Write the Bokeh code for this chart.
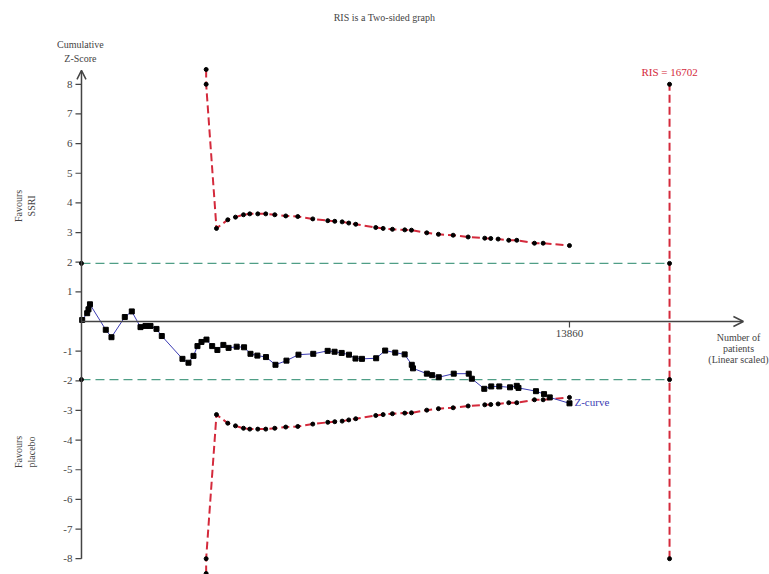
from bokeh.plotting import figure
from bokeh.models import Range1d, Label, Arrow, OpenHead, ColumnDataSource
from bokeh.core.properties import value
from bokeh.embed import file_html
from bokeh.resources import INLINE

# Cumulative number of patients after each added trial and the cumulative Z-score
z_patients = [20, 162, 199, 241, 690, 852, 1230, 1429, 1676, 1818, 1960, 2130, 2281,
              2868, 3039, 3181, 3294, 3408, 3550, 3712, 3860, 4030, 4178, 4408, 4618,
              4800, 4996, 5240, 5510, 5822, 6163, 6583, 6992, 7188, 7390, 7597, 7782,
              7966, 8369, 8625, 8912, 9179, 9381, 9415, 9809, 9960, 10147, 10573, 10999,
              11087, 11440, 11638, 11866, 12172, 12363, 12411, 12908, 13138, 13300, 13860]
z_values = [0.05, 0.28, 0.41, 0.58, -0.28, -0.53, 0.15, 0.34, -0.19, -0.15, -0.15, -0.25, -0.49,
            -1.26, -1.39, -1.16, -0.83, -0.69, -0.61, -0.83, -0.96, -0.79, -0.89, -0.85, -0.87,
            -1.09, -1.15, -1.20, -1.46, -1.32, -1.12, -1.09, -0.99, -1.02, -1.06, -1.12, -1.25,
            -1.26, -1.24, -0.98, -1.05, -1.11, -1.46, -1.58, -1.76, -1.81, -1.88, -1.76, -1.76,
            -1.93, -2.27, -2.19, -2.19, -2.22, -2.17, -2.24, -2.35, -2.45, -2.56, -2.76]

# Trial sequential monitoring boundary (upper; the lower one is its mirror image)
bound_patients = [3541, 3541, 3834, 4155, 4374, 4601, 4780, 5007, 5234, 5490, 5802, 6143,
                  6569, 6995, 7194, 7404, 7591, 7790, 8358, 8568, 8832, 9182, 9372, 9807,
                  10139, 10556, 10982, 11454, 11624, 11834, 12135, 12363, 12865, 13112, 13860]
bound_upper = [8.5, 8.0, 3.14, 3.43, 3.52, 3.60, 3.63, 3.63, 3.63, 3.60, 3.56, 3.54,
               3.46, 3.40, 3.38, 3.36, 3.32, 3.28, 3.17, 3.14, 3.11, 3.09, 3.08, 2.99,
               2.94, 2.91, 2.85, 2.81, 2.80, 2.78, 2.74, 2.74, 2.64, 2.64, 2.56]
bound_lower = [-v for v in bound_upper]

ris = 16702
total_patients = 13860
conv_z = 1.96
y_ticks = [-8, -7, -6, -5, -4, -3, -2, -1, 1, 2, 3, 4, 5, 6, 7, 8]
y_tick_labels = [str(t) for t in y_ticks]

SERIF = "Liberation Serif"
RED = "#d42a3c"
GREEN = "#4f9e86"
BLUE = "#3c3cb4"
AXIS = "#444444"

# data units per screen pixel, used for tick lengths and offsets
PX_X = 28.4
PX_Y = 1 / 29.65

p = figure(width=769, height=574, output_backend="svg", toolbar_location=None,
           x_range=Range1d(-2300, 19541), y_range=Range1d(-8.533, 10.826),
           x_axis_type=None, y_axis_type=None,
           min_border_left=0, min_border_right=0, min_border_top=0, min_border_bottom=0)
p.outline_line_color = None
p.background_fill_color = "white"
p.border_fill_color = "white"

# vertical Z axis with ticks and an open arrow head
p.add_layout(Arrow(end=OpenHead(size=9, line_color=AXIS, line_width=1.5),
                   x_start=0, y_start=-8, x_end=0, y_end=8.47,
                   line_color=AXIS, line_width=1.5))
p.segment(x0=[-6 * PX_X] * len(y_ticks), y0=y_ticks, x1=[0] * len(y_ticks), y1=y_ticks,
          line_color=AXIS, line_width=1.2)
p.text(x=[-9 * PX_X] * len(y_ticks), y=y_ticks, text=y_tick_labels,
       text_align="right", text_baseline="middle", text_font=value(SERIF),
       text_font_size="11px", text_color=AXIS)

# horizontal patients axis through Z = 0
p.add_layout(Arrow(end=OpenHead(size=10, line_color=AXIS, line_width=1.5),
                   x_start=0, y_start=0, x_end=18800, y_end=0,
                   line_color=AXIS, line_width=1.5))
p.segment(x0=[total_patients], y0=[0], x1=[total_patients], y1=[-6 * PX_Y],
          line_color=AXIS, line_width=1.2)
p.add_layout(Label(x=total_patients, y=-9 * PX_Y, text=str(total_patients),
                   text_align="center", text_baseline="top",
                   text_font=SERIF, text_font_size="11px", text_color=AXIS))

# conventional significance lines
for zc in (conv_z, -conv_z):
    p.line([0, ris], [zc, zc], line_color=GREEN, line_width=1.3, line_dash="9 5")

# required information size
p.line([ris, ris], [-8, 8], line_color=RED, line_width=2, line_dash="8 4")
p.scatter([ris, ris, ris, ris, 0, 0], [8, conv_z, -conv_z, -8, conv_z, -conv_z],
          size=4, color="black")

# monitoring boundaries
for bz in (bound_upper, bound_lower):
    p.line(bound_patients, bz, line_color=RED, line_width=2, line_dash="8 4")
    p.scatter(bound_patients, bz, size=4, color="black")

# cumulative Z-curve
src = ColumnDataSource(dict(n=z_patients, z=z_values))
p.line("n", "z", source=src, line_color=BLUE, line_width=1)
p.scatter("n", "z", source=src, marker="square", size=5, color="black")


def label(x, y, text, size="10px", color=AXIS, align="center", baseline="middle", angle=0):
    p.add_layout(Label(x=x, y=y, text=text, text_align=align, text_baseline=baseline,
                       angle=angle, text_font=SERIF, text_font_size=size,
                       text_color=color))


label(8605, 10.25, "RIS is a Two-sided graph")
label(-30, 9.33, "Cumulative")
label(-30, 8.88, "Z-Score")
label(ris, 8.4, "RIS = 16702", size="11px", color=RED)
label(14002, -2.73, "Z-curve", size="11px", color=BLUE, align="left")
label(18660, -0.55, "Number of")
label(18660, -0.92, "patients")
label(18660, -1.29, "(Linear scaled)")
label(-1790, 3.9, "Favours", angle=1.5708)
label(-1420, 3.9, "SSRI", angle=1.5708)
label(-1790, -4.4, "Favours", angle=1.5708)
label(-1420, -4.4, "placebo", angle=1.5708)

open("out.html", "w").write(file_html(p, INLINE))
